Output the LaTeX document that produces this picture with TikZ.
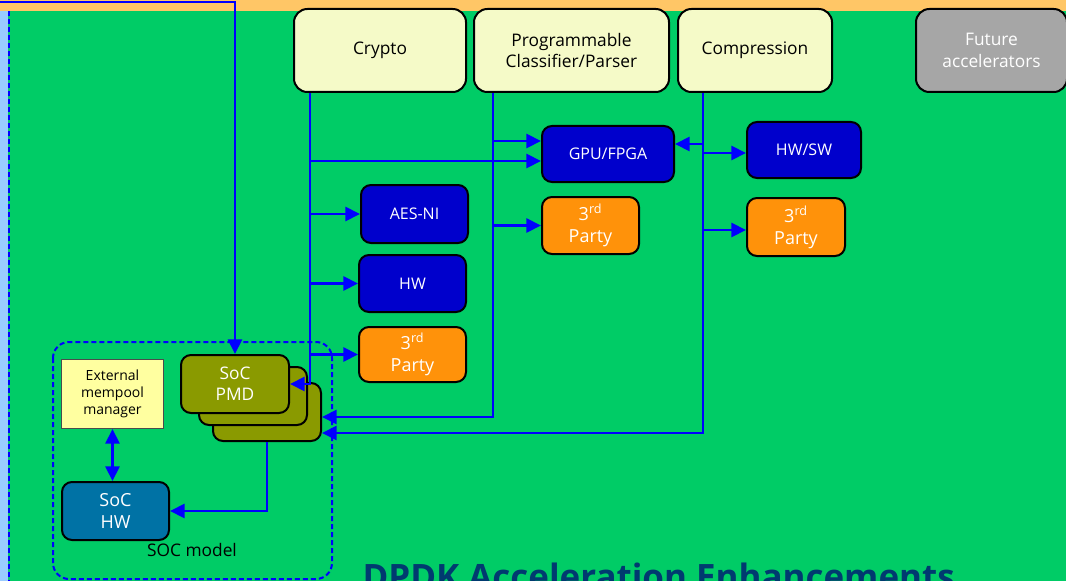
\documentclass[tikz,border=0pt]{standalone}
\usepackage{fontspec}
\setmainfont{Open Sans}
\usetikzlibrary{arrows.meta,calc}

\definecolor{slidegreen}{RGB}{0,204,102}
\definecolor{bandorange}{RGB}{255,198,102}
\definecolor{edgeblue}{RGB}{153,204,255}
\definecolor{linkblue}{RGB}{0,0,255}
\definecolor{paleyellow}{RGB}{245,250,200}
\definecolor{accelblue}{RGB}{0,0,204}
\definecolor{partyorange}{RGB}{255,146,10}
\definecolor{futuregray}{RGB}{166,166,166}
\definecolor{pmdolive}{RGB}{138,154,0}
\definecolor{mempoolyellow}{RGB}{255,255,160}
\definecolor{hwteal}{RGB}{0,114,165}
\definecolor{titleblue}{RGB}{0,58,112}

\tikzset{every picture/.style={line width=0.75pt}}
\tikzset{
  blk/.style={draw=black, line width=1.5pt, rounded corners=7.5pt, align=center, inner sep=0pt, anchor=north west},
  topblk/.style={blk, fill=paleyellow, rounded corners=10pt, minimum height=62.25pt, font=\fontsize{13}{16}\selectfont},
  accel/.style={blk, fill=accelblue, text=white, font=\fontsize{12}{14}\selectfont},
  party/.style={blk, fill=partyorange, text=white, font=\fontsize{13.5}{16.5}\selectfont},
  pmd/.style={blk, fill=pmdolive, text=white, minimum width=81pt, minimum height=43.5pt, font=\fontsize{13}{15.5}\selectfont},
  link/.style={draw=linkblue, line width=2.1pt, -{Triangle[length=11pt,width=10.5pt]}},
  duallink/.style={draw=linkblue, line width=2.1pt, {Triangle[length=11pt,width=10.5pt]}-{Triangle[length=11pt,width=10.5pt]}},
  dashline/.style={draw=linkblue, line width=1.5pt, dash pattern=on 3.75pt off 2.25pt},
}

\begin{document}
\begin{tikzpicture}[x=0.75pt,y=0.75pt,yscale=-1]
	\useasboundingbox (0,0) rectangle (1066,581);
	
	%Background
	\fill[slidegreen] (0,0) rectangle (1066,581);
	\fill[bandorange] (0,0) rectangle (1066,11.5);
	\fill[edgeblue] (0,11.5) rectangle (7.5,581);
	\draw[dashline] (8.7,11.5) -- (8.7,581);
	
	%Shape: SOC model frame
	\draw[dashline, rounded corners=12pt] (53,342) rectangle (332,579);
	
	%Top row
	\node[topblk, minimum width=129pt] (crypto) at (293,8) {Crypto};
	\node[topblk, minimum width=146.25pt] (prog) at (473,8) {Programmable\\Classifier/Parser};
	\node[topblk, minimum width=115.5pt] (compr) at (677,8) {Compression};
	\node[topblk, minimum width=113.25pt, fill=futuregray, text=white] (future) at (915,8) {Future\\accelerators};
	
	%Accelerators
	\node[accel, minimum width=99pt, minimum height=42pt] (gpu) at (541,125) {GPU/FPGA};
	\node[accel, minimum width=85.5pt, minimum height=42pt] (hwsw) at (746,121) {HW/SW};
	\node[accel, minimum width=80.25pt, minimum height=43.5pt] (aes) at (360,184) {AES-NI};
	\node[accel, minimum width=80.25pt, minimum height=42.75pt] (hw) at (358,254) {HW};
	\node[party, minimum width=80.25pt, minimum height=41.25pt] (thirdL) at (358,326) {3\textsuperscript{rd}\\Party};
	\node[party, minimum width=72.75pt, minimum height=42.75pt] (thirdM) at (541,196) {3\textsuperscript{rd}\\Party};
	\node[party, minimum width=73.5pt, minimum height=43.5pt] (thirdR) at (746,197) {3\textsuperscript{rd}\\Party};
	
	%SoC PMD stack
	\node[pmd] (pmdC) at (212,382) {};
	\node[pmd] (pmdB) at (198,366) {};
	\node[pmd] (pmdA) at (180,354) {SoC\\PMD};
	
	% Text Node
	\node[draw=black!70, fill=mempoolyellow, minimum width=76.5pt, minimum height=51.75pt, anchor=north west, align=center, inner sep=0pt, font=\fontsize{10.5}{13}\selectfont] (mempool) at (61,359) {External\\mempool\\manager};
	\node[blk, fill=hwteal, text=white, minimum width=80.25pt, minimum height=43.5pt, font=\fontsize{13.5}{16}\selectfont] (sochw) at (61,481) {SoC\\HW};
	\node[font=\fontsize{13}{15}\selectfont] (soclabel) at (192,550) {SOC model};
	
	% Text Node
	\node[anchor=base west, inner sep=0pt, text=titleblue, font=\fontsize{26.2}{30}\selectfont\bfseries] (title) at (362,589) {DPDK Acceleration Enhancements};
	
	%Buses
	\coordinate (feed) at (-5,2);
	\coordinate (cbus) at (310,0);
	\coordinate (pbus) at (493,0);
	\coordinate (zbus) at (703,0);
	\coordinate (gpuC) at ($(gpu.west)+(0,7)$);
	\coordinate (gpuP) at ($(gpu.west)+(0,-13)$);
	\coordinate (gpuZ) at ($(gpu.east)+(0,-10)$);
	\coordinate (hwswZ) at ($(hwsw.west)+(0,3)$);
	\coordinate (thirdRZ) at ($(thirdR.west)+(0,3)$);
	\coordinate (pmdP) at ($(pmdC.east)+(0,5)$);
	\coordinate (pmdZ) at ($(pmdC.east)+(0,21)$);
	
	%Connectors
	\draw[link] (feed) -| (pmdA.north);
	\draw[link] (crypto.south -| cbus) |- (pmdA.east);
	\draw[link] (cbus |- gpuC) -- (gpuC);
	\draw[link] (cbus |- aes.west) -- (aes.west);
	\draw[link] (cbus |- hw.west) -- (hw.west);
	\draw[link] (cbus |- thirdL.west) -- (thirdL.west);
	
	\draw[link] (prog.south -| pbus) |- (pmdP);
	\draw[link] (pbus |- gpuP) -- (gpuP);
	\draw[link] (pbus |- thirdM.west) -- (thirdM.west);
	
	\draw[link] (compr.south -| zbus) |- (pmdZ);
	\draw[link] (zbus |- gpuZ) -- (gpuZ);
	\draw[link] (zbus |- hwswZ) -- (hwswZ);
	\draw[link] (zbus |- thirdRZ) -- (thirdRZ);
	
	\draw[link] (pmdC.south) |- (sochw.east);
	\draw[duallink] (mempool.south) -- (mempool.south |- sochw.north);
	
\end{tikzpicture}
\end{document}
